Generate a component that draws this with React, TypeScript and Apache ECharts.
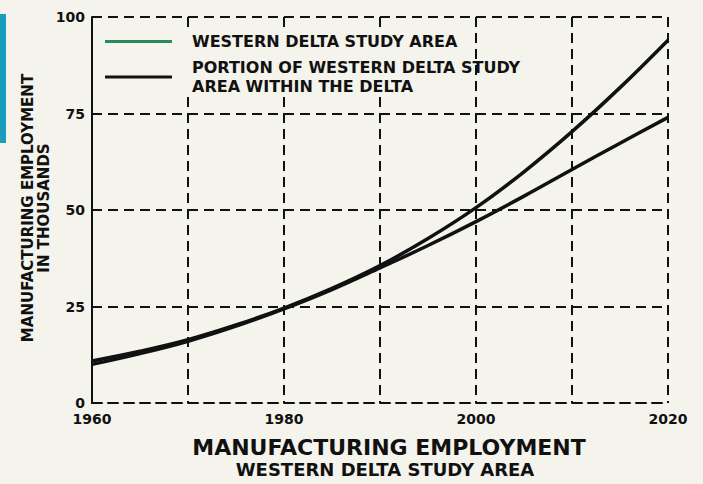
import React, { useEffect, useRef } from "react";
import * as echarts from "echarts";

const years = [1960, 1965, 1970, 1975, 1980, 1985, 1990, 1995, 2000, 2005, 2010, 2015, 2020];
const studyArea = [10.9, 13.4, 16.4, 20.2, 24.6, 29.7, 35.6, 42.6, 50.6, 59.9, 70.3, 81.7, 94];
const withinDelta = [10.0, 12.8, 16.0, 19.9, 24.4, 29.4, 35.0, 40.8, 47, 53.6, 60.5, 67.3, 74];
const xTickLabels = ["1960", "1980", "2000", "2020"];
const seriesNames = [
  "WESTERN DELTA STUDY AREA",
  "PORTION OF WESTERN DELTA STUDY AREA WITHIN THE DELTA",
];
const legendLabels = [
  "WESTERN DELTA STUDY AREA",
  "PORTION OF WESTERN DELTA STUDY\nAREA WITHIN THE DELTA",
];

const BG = "#f4f3ec";
const INK = "#111111";
const FONT = "DejaVu Sans";

export default function App() {
  const ref = useRef<HTMLDivElement>(null);
  useEffect(() => {
    if (!ref.current) return;
    const chart = echarts.init(ref.current, null, { renderer: "svg" });
    const dash = { color: INK, width: 2, type: [10, 6] as number[] };
    chart.setOption({
      animation: false,
      backgroundColor: BG,
      grid: { left: 92, right: 35, top: 17, bottom: 81 },
      xAxis: {
        type: "value",
        min: 1960,
        max: 2020,
        interval: 10,
        axisLine: { show: true, lineStyle: dash },
        axisTick: { show: false },
        splitLine: { show: true, lineStyle: dash },
        axisLabel: {
          margin: 9,
          color: INK,
          fontFamily: FONT,
          fontWeight: "bold",
          fontSize: 14,
          formatter: (v: number) =>
            xTickLabels.includes(String(v)) ? String(v) : "",
        },
      },
      yAxis: {
        type: "value",
        min: 0,
        max: 100,
        interval: 25,
        axisLine: { show: true, lineStyle: dash },
        axisTick: { show: false },
        splitLine: { show: true, lineStyle: dash },
        axisLabel: {
          margin: 7,
          color: INK,
          fontFamily: FONT,
          fontWeight: "bold",
          fontSize: 14,
        },
      },
      legend: {
        orient: "vertical",
        left: 105,
        top: 32,
        padding: 0,
        itemGap: 7,
        itemWidth: 67,
        itemHeight: 3,
        icon: "rect",
        data: [
          { name: seriesNames[0], itemStyle: { color: "#2a8a5c" } },
          { name: seriesNames[1], itemStyle: { color: INK } },
        ],
        formatter: (name: string) => legendLabels[seriesNames.indexOf(name)],
        textStyle: {
          color: INK,
          fontFamily: FONT,
          fontWeight: "bold",
          fontSize: 16,
          lineHeight: 19,
          padding: [0, 0, 0, 15],
        },
      },
      graphic: [
        {
          type: "rect",
          z: 3,
          shape: { x: 95, y: 27, width: 375, height: 67 },
          style: { fill: BG },
        },
        {
          type: "rect",
          z: 3,
          shape: { x: 0, y: 14, width: 6, height: 129 },
          style: { fill: "#1a9dbc" },
        },
        {
          type: "text",
          z: 5,
          x: 36,
          y: 208,
          rotation: Math.PI / 2,
          style: {
            text: "MANUFACTURING EMPLOYMENT\nIN THOUSANDS",
            fill: INK,
            font: `bold 15px "${FONT}"`,
            lineHeight: 16,
            align: "center",
            verticalAlign: "middle",
          },
        },
        {
          type: "text",
          z: 5,
          x: 389,
          y: 447,
          style: {
            text: "MANUFACTURING EMPLOYMENT",
            fill: INK,
            font: `bold 22px "${FONT}"`,
            align: "center",
            verticalAlign: "middle",
          },
        },
        {
          type: "text",
          z: 5,
          x: 385,
          y: 469,
          style: {
            text: "WESTERN DELTA STUDY AREA",
            fill: INK,
            font: `bold 18px "${FONT}"`,
            align: "center",
            verticalAlign: "middle",
          },
        },
      ],
      series: [
        {
          name: seriesNames[0],
          type: "line",
          smooth: 0.4,
          showSymbol: false,
          data: years.map((y, i) => [y, studyArea[i]]),
          lineStyle: { color: INK, width: 3.5 },
          itemStyle: { color: INK },
        },
        {
          name: seriesNames[1],
          type: "line",
          smooth: 0.4,
          showSymbol: false,
          data: years.map((y, i) => [y, withinDelta[i]]),
          lineStyle: { color: INK, width: 3.5 },
          itemStyle: { color: INK },
        },
      ],
    });
    return () => chart.dispose();
  }, []);
  return (
    <div
      style={{
        position: "fixed",
        left: 0,
        top: 0,
        width: 703,
        height: 484,
        background: BG,
      }}
    >
      <div ref={ref} style={{ width: 703, height: 484 }} />
    </div>
  );
}
